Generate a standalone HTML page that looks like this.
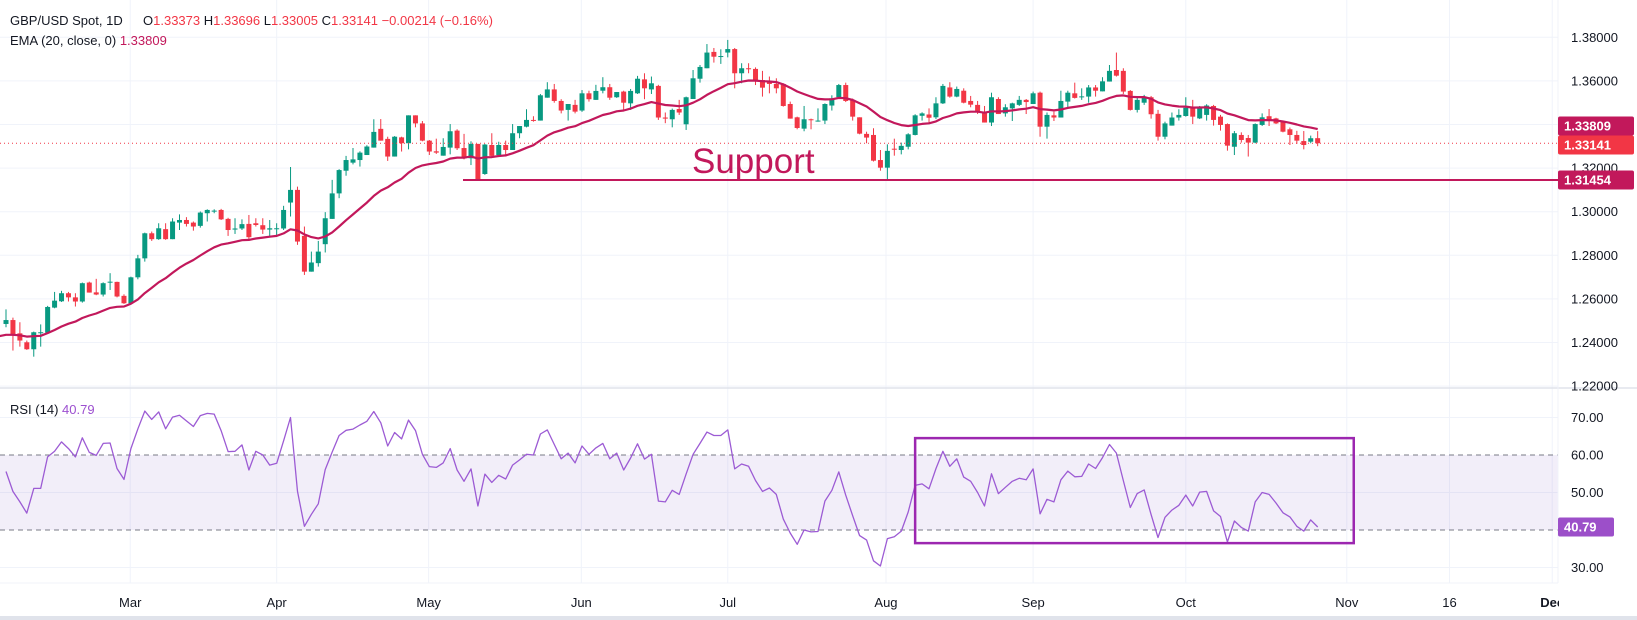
<!DOCTYPE html>
<html><head><meta charset="utf-8"><title>GBP/USD Spot 1D</title>
<style>
html,body{margin:0;padding:0;background:#fff;}
svg{display:block;font-family:"Liberation Sans",sans-serif;}
</style></head>
<body>
<svg id="chart" xmlns="http://www.w3.org/2000/svg" width="1637" height="620" viewBox="0 0 1637 620">
  <rect x="0" y="0" width="1637" height="620" fill="#ffffff"/>
  <g id="grid"></g>
  <rect x="0" y="455" width="1558" height="75" fill="#7e57c2" fill-opacity="0.1" id="rsiBand"/>
  <g id="rsiGuides"></g>
  <g id="candles"></g>
  <g id="ema"></g>
  <g id="rsi"></g>
  <line x1="0" y1="388" x2="1637" y2="388" stroke="#e0e3eb" stroke-width="1.5"/>
  <line x1="0" y1="583" x2="1558" y2="583" stroke="#f0f3fa" stroke-width="1"/>
  <line x1="1558" y1="0" x2="1558" y2="583" stroke="#f0f3fa" stroke-width="1"/>
  <g id="overlays"></g>
  <g id="axes"></g>
  <rect x="0" y="616" width="1637" height="4" fill="#e0e3eb"/>
  <g font-size="13">
    <text x="10" y="25" fill="#131722">GBP/USD Spot, 1D</text>
    <text x="143" y="25" fill="#131722">O<tspan fill="#f23645">1.33373</tspan>  H<tspan fill="#f23645">1.33696</tspan>  L<tspan fill="#f23645">1.33005</tspan>  C<tspan fill="#f23645">1.33141</tspan>  <tspan fill="#f23645">−0.00214 (−0.16%)</tspan></text>
    <text x="10" y="45" fill="#131722">EMA (20, close, 0)  <tspan fill="#c2185b">1.33809</tspan></text>
    <text x="10" y="414" fill="#131722">RSI (14)  <tspan fill="#9c4fd0">40.79</tspan></text>
  </g>
</svg>
<script>
const opens=[1.2485,1.2503,1.2442,1.2401,1.2369,1.2444,1.2445,1.2560,1.2589,1.2626,
1.2607,1.2588,1.2675,1.2630,1.2620,1.2676,1.2678,1.2614,1.2580,1.2699,
1.2786,1.2901,1.2874,1.2920,1.2874,1.2950,1.2962,1.2950,1.2935,1.2993,
1.3004,1.3008,1.2967,1.2918,1.2923,1.2944,1.2947,1.2938,1.2918,1.2921,
1.2923,1.3042,1.3100,1.2889,1.2725,1.2764,1.2851,1.2967,1.3084,1.3188,
1.3225,1.3237,1.3260,1.3294,1.3380,1.3334,1.3253,1.3341,1.3314,1.3442,
1.3405,1.3326,1.3277,1.3257,1.3294,1.3372,1.3292,1.3245,1.3311,1.3173,
1.3306,1.3260,1.3306,1.3283,1.3360,1.3390,1.3421,1.3418,1.3523,1.3561,
1.3508,1.3467,1.3490,1.3464,1.3543,1.3513,1.3555,1.3571,1.3525,1.3551,
1.3497,1.3543,1.3607,1.3561,1.3577,1.3432,1.3424,1.3471,1.3401,1.3517,
1.3610,1.3658,1.3733,1.3711,1.3730,1.3746,1.3635,1.3658,1.3655,1.3604,
1.3597,1.3586,1.3586,1.3494,1.3433,1.3381,1.3424,1.3415,1.3418,1.3487,
1.3525,1.3581,1.3513,1.3433,1.3357,1.3352,1.3237,1.3202,1.3289,1.3283,
1.3298,1.3352,1.3440,1.3446,1.3433,1.3497,1.3570,1.3528,1.3555,1.3508,
1.3490,1.3459,1.3409,1.3517,1.3451,1.3474,1.3490,1.3513,1.3494,1.3546,
1.3390,1.3442,1.3432,1.3505,1.3543,1.3526,1.3528,1.3570,1.3552,1.3597,
1.3650,1.3646,1.3554,1.3467,1.3500,1.3525,1.3449,1.3344,1.3395,1.3432,
1.3439,1.3478,1.3428,1.3444,1.3485,1.3436,1.3402,1.3298,1.3352,1.3338,
1.3317,1.3398,1.3438,1.3428,1.3413,1.3378,1.3352,1.3324,1.3321,1.33373];
const highs=[1.2552,1.2514,1.2493,1.2409,1.2450,1.2483,1.2568,1.2632,1.2637,1.2632,
1.2626,1.2675,1.2679,1.2692,1.2676,1.2718,1.2679,1.2621,1.2702,1.2802,
1.2904,1.2909,1.2947,1.2947,1.2970,1.2988,1.2975,1.2955,1.3001,1.3011,
1.3011,1.3013,1.2972,1.2970,1.2965,1.2985,1.2970,1.2970,1.2962,1.2947,
1.3027,1.3205,1.3115,1.2932,1.2817,1.2866,1.2998,1.3146,1.3195,1.3256,
1.3292,1.3277,1.3305,1.3424,1.3425,1.3344,1.3347,1.3344,1.3442,1.3442,
1.3416,1.3329,1.3335,1.3337,1.3402,1.3378,1.3357,1.3323,1.3311,1.3311,
1.3360,1.3321,1.3326,1.3402,1.3393,1.3470,1.3438,1.3540,1.3594,1.3586,
1.3516,1.3494,1.3513,1.3558,1.3555,1.3582,1.3617,1.3586,1.3549,1.3555,
1.3563,1.3623,1.3635,1.3620,1.3582,1.3455,1.3473,1.3513,1.3528,1.3650,
1.3673,1.3769,1.3751,1.3745,1.3788,1.3751,1.3681,1.3681,1.3662,1.3646,
1.3620,1.3612,1.3589,1.3505,1.3436,1.3485,1.3427,1.3474,1.3497,1.3534,
1.3586,1.3592,1.3519,1.3433,1.3367,1.3383,1.3283,1.3309,1.3335,1.3317,
1.3360,1.3447,1.3456,1.3474,1.3525,1.3586,1.3594,1.3574,1.3566,1.3531,
1.3508,1.3485,1.3546,1.3525,1.3493,1.3500,1.3531,1.3517,1.3551,1.3551,
1.3455,1.3459,1.3555,1.3555,1.3592,1.3566,1.3581,1.3581,1.3617,1.3673,
1.3730,1.3658,1.3558,1.3523,1.3536,1.3531,1.3467,1.3413,1.3455,1.3470,
1.3525,1.3513,1.3485,1.3493,1.3490,1.3444,1.3405,1.3370,1.3364,1.3352,
1.3405,1.3451,1.3471,1.3431,1.3416,1.3386,1.3371,1.3370,1.3349,1.33696];
const lows=[1.2470,1.2363,1.2381,1.2366,1.2335,1.2381,1.2439,1.2557,1.2586,1.2588,
1.2565,1.2583,1.2629,1.2617,1.2611,1.2641,1.2607,1.2577,1.2577,1.2690,
1.2771,1.2866,1.2871,1.2871,1.2874,1.2916,1.2932,1.2913,1.2927,1.2955,
1.2993,1.2962,1.2889,1.2898,1.2916,1.2871,1.2932,1.2898,1.2883,1.2886,
1.2916,1.2978,1.2848,1.2710,1.2725,1.2748,1.2813,1.2967,1.3062,1.3165,
1.3217,1.3207,1.3260,1.3294,1.3326,1.3233,1.3253,1.3276,1.3286,1.3387,
1.3323,1.3260,1.3265,1.3257,1.3263,1.3283,1.3240,1.3214,1.3143,1.3169,
1.3253,1.3256,1.3253,1.3283,1.3337,1.3387,1.3413,1.3418,1.3523,1.3500,
1.3451,1.3418,1.3451,1.3458,1.3505,1.3513,1.3543,1.3513,1.3522,1.3464,
1.3467,1.3540,1.3516,1.3540,1.3421,1.3406,1.3387,1.3444,1.3375,1.3517,
1.3592,1.3658,1.3684,1.3678,1.3708,1.3566,1.3589,1.3635,1.3581,1.3528,
1.3543,1.3543,1.3482,1.3427,1.3378,1.3369,1.3378,1.3413,1.3402,1.3464,
1.3525,1.3503,1.3418,1.3355,1.3314,1.3230,1.3188,1.3143,1.3257,1.3263,
1.3286,1.3350,1.3418,1.3401,1.3425,1.3494,1.3523,1.3525,1.3497,1.3479,
1.3448,1.3409,1.3393,1.3448,1.3436,1.3416,1.3485,1.3448,1.3494,1.3344,
1.3335,1.3416,1.3432,1.3479,1.3519,1.3513,1.3500,1.3528,1.3552,1.3597,
1.3620,1.3540,1.3464,1.3455,1.3490,1.3427,1.3326,1.3332,1.3395,1.3418,
1.3436,1.3402,1.3425,1.3418,1.3395,1.3372,1.3280,1.3260,1.3317,1.3253,
1.3314,1.3393,1.3393,1.3402,1.3364,1.3306,1.3311,1.3286,1.3314,1.33005];
const closes=[1.2503,1.2439,1.2409,1.2369,1.2447,1.2447,1.2563,1.2592,1.2626,1.2607,
1.2588,1.2672,1.2629,1.2620,1.2672,1.2679,1.2611,1.2580,1.2699,1.2786,
1.2901,1.2874,1.2924,1.2874,1.2955,1.2962,1.2944,1.2932,1.2996,1.3008,
1.3005,1.2965,1.2916,1.2923,1.2943,1.2883,1.2939,1.2918,1.2924,1.2924,
1.3008,1.3100,1.2863,1.2725,1.2767,1.2817,1.2970,1.3084,1.3191,1.3237,
1.3240,1.3271,1.3299,1.3366,1.3326,1.3253,1.3344,1.3314,1.3442,1.3405,
1.3326,1.3276,1.3271,1.3297,1.3369,1.3291,1.3245,1.3311,1.3146,1.3308,
1.3256,1.3306,1.3283,1.3360,1.3393,1.3421,1.3418,1.3534,1.3561,1.3508,
1.3464,1.3494,1.3459,1.3543,1.3516,1.3554,1.3571,1.3523,1.3549,1.3500,
1.3554,1.3610,1.3566,1.3589,1.3432,1.3427,1.3467,1.3455,1.3525,1.3612,
1.3664,1.3730,1.3711,1.3714,1.3746,1.3635,1.3658,1.3655,1.3600,1.3569,
1.3586,1.3566,1.3485,1.3427,1.3384,1.3424,1.3421,1.3418,1.3494,1.3520,
1.3581,1.3508,1.3436,1.3358,1.3340,1.3234,1.3202,1.3279,1.3286,1.3302,
1.3355,1.3442,1.3451,1.3431,1.3497,1.3577,1.3528,1.3563,1.3500,1.3491,
1.3456,1.3409,1.3525,1.3448,1.3479,1.3497,1.3513,1.3503,1.3543,1.3390,
1.3444,1.3432,1.3508,1.3546,1.3522,1.3529,1.3570,1.3555,1.3598,1.3646,
1.3624,1.3551,1.3467,1.3513,1.3525,1.3447,1.3344,1.3405,1.3432,1.3444,
1.3477,1.3436,1.3482,1.3487,1.3421,1.3398,1.3303,1.3360,1.3329,1.3317,
1.3402,1.3433,1.3421,1.3405,1.3367,1.3352,1.3326,1.3306,1.3337,1.33141];
const rsiValues=[55.6,50.3,47.5,44.5,51.1,51.1,59.5,61.0,63.5,61.7,
59.5,64.6,60.7,59.9,63.1,63.2,56.4,53.5,61.7,67.0,
71.7,69.5,71.5,67.0,70.1,70.6,69.1,67.6,70.5,71.1,
70.9,66.5,60.9,61.0,62.7,56.0,61.0,60.0,57.3,57.8,
63.8,70.0,50.3,41.0,44.2,47.0,56.1,60.8,65.2,66.6,
66.9,68.0,69.0,71.6,68.6,62.4,66.0,64.3,69.3,66.5,
60.2,56.9,56.7,57.9,61.7,56.0,53.0,56.3,46.4,54.9,
52.7,54.6,53.6,57.3,58.7,60.2,60.0,65.6,66.7,62.8,
59.0,60.5,57.9,62.4,60.2,61.9,63.1,59.0,60.5,56.0,
59.2,63.0,58.9,60.2,47.7,
47.5,50.6,49.5,54.9,60.2,63.1,66.1,65.2,65.2,66.7,
56.3,57.6,57.0,53.2,50.3,51.2,49.5,42.9,39.2,36.2,
40.0,39.5,39.6,47.7,50.6,55.5,49.3,43.8,38.5,37.3,
31.8,30.4,37.7,38.2,39.7,44.8,51.9,52.3,51.0,56.4,
61.0,57.0,59.0,54.1,53.0,50.0,46.4,55.0,49.7,51.4,
53.0,53.8,53.4,56.3,44.3,48.2,47.5,53.4,55.7,54.2,
54.3,57.6,56.4,59.3,62.8,60.5,53.2,46.0,49.7,50.7,
44.1,38.0,43.4,45.3,46.6,49.3,46.4,50.1,50.3,45.1,
43.6,36.8,42.4,40.7,39.7,47.5,50.0,49.5,47.2,44.6,
43.5,41.0,39.7,42.7,40.79];
const emaSeed=1.2428;
const emaPeriod=20;
const priceTicks=[1.38,1.36,1.34,1.32,1.30,1.28,1.26,1.24,1.22];
const priceTickLabels=["1.38000","1.36000","1.34000","1.32000","1.30000","1.28000","1.26000","1.24000","1.22000"];
const rsiTicks=[70,60,50,30];
const rsiTickLabels=["70.00","60.00","50.00","30.00"];
const monthLabels=["Mar","Apr","May","Jun","Jul","Aug","Sep","Oct","Nov","16","Dec"];
const monthBarIdx=[17.9,39.0,60.9,82.9,104.0,126.8,148.0,170.0,193.2,208.0,222.8];
const supportLevel=1.31454;
const lastPrice=1.33141;
const rsiBoxRange=[131.0,194.2];
const rsiBoxLevels=[64.5,36.5];

const NS="http://www.w3.org/2000/svg";
function yP(p){return 37.3+(1.38-p)*2180;}
function yR(v){return 492.5-(v-50)*3.75;}
function xB(i){return 6+i*6.94;}
function mk(tag,attrs,parent){const e=document.createElementNS(NS,tag);for(const k in attrs)e.setAttribute(k,attrs[k]);parent.appendChild(e);return e;}

const grid=document.getElementById('grid');
priceTicks.forEach(function(p){
  const l=mk('line',{x1:0,x2:1558,y1:yP(p),y2:yP(p),stroke:'#f0f3fa','stroke-width':1},grid);
  
  
});
[70,50,30].forEach(function(v){
  const l=mk('line',{x1:0,x2:1558,y1:yR(v),y2:yR(v),stroke:'#f0f3fa','stroke-width':1},grid);
  
  
});
monthBarIdx.forEach(function(b){
  const x=xB(b);
  const l=mk('line',{x1:x,x2:x,y1:0,y2:583,stroke:'#f0f3fa','stroke-width':1},grid);
  
  
});

const band=document.getElementById('rsiBand');
band.setAttribute('y',yR(60));band.setAttribute('height',yR(40)-yR(60));
const rg=document.getElementById('rsiGuides');
[60,40].forEach(function(v){
  const l=mk('line',{x1:0,x2:1558,y1:yR(v),y2:yR(v),stroke:'#787b86','stroke-width':1,'stroke-dasharray':'5,4'},rg);
  
  
});

const cg=document.getElementById('candles');
for(let i=0;i<closes.length;i++){
  const up=closes[i]>=opens[i];
  const col=up?'#089981':'#f23645';
  const x=xB(i);
  const g=mk('g',{},cg);
  
  
  mk('line',{x1:x,x2:x,y1:yP(highs[i]),y2:yP(lows[i]),stroke:col,'stroke-width':1},g);
  const top=yP(Math.max(opens[i],closes[i]));
  const h=Math.max(1,yP(Math.min(opens[i],closes[i]))-top);
  mk('rect',{x:x-2.5,y:top,width:5,height:h,fill:col},g);
}

const eg=document.getElementById('ema');
let ema=emaSeed;const k=2/(emaPeriod+1);let pts=[];
for(let i=0;i<closes.length;i++){
  ema=closes[i]*k+ema*(1-k);
  pts.push(xB(i).toFixed(1)+','+yP(ema).toFixed(1));
}
const emaPath=mk('polyline',{points:'-2,'+yP(emaSeed).toFixed(1)+' '+pts.join(' '),fill:'none',stroke:'#c2185b','stroke-width':2.2,'stroke-linejoin':'round'},eg);



const rgp=document.getElementById('rsi');
const rp=rsiValues.map(function(v,i){return xB(i).toFixed(1)+','+yR(v).toFixed(1);});
const rl=mk('polyline',{points:rp.join(' '),fill:'none',stroke:'#9c5bd4','stroke-width':1.3,'stroke-linejoin':'round'},rgp);



const ov=document.getElementById('overlays');
const pl=mk('line',{x1:0,x2:1558,y1:yP(lastPrice),y2:yP(lastPrice),stroke:'#f23645','stroke-width':1,'stroke-dasharray':'1,3'},ov);


const sl=mk('line',{x1:463,x2:1558,y1:yP(supportLevel),y2:yP(supportLevel),stroke:'#c2185b','stroke-width':2},ov);


const st=mk('text',{x:692,y:yP(supportLevel)-7,fill:'#c2185b','font-size':'35'},ov);
st.textContent='Support';


const bx=mk('rect',{x:xB(rsiBoxRange[0]),y:yR(rsiBoxLevels[0]),width:xB(rsiBoxRange[1])-xB(rsiBoxRange[0]),height:yR(rsiBoxLevels[1])-yR(rsiBoxLevels[0]),fill:'none',stroke:'#9c27b0','stroke-width':2.5},ov);



const ax=document.getElementById('axes');
priceTicks.forEach(function(p,i){
  const t=mk('text',{x:1571,y:yP(p)+4.5,fill:'#131722','font-size':'13'},ax);
  t.textContent=priceTickLabels[i];
  
  
});
rsiTicks.forEach(function(v,i){
  const t=mk('text',{x:1571,y:yR(v)+4.5,fill:'#131722','font-size':'13'},ax);
  t.textContent=rsiTickLabels[i];
  
  
});
monthLabels.forEach(function(m,i){
  const t=mk('text',{x:xB(monthBarIdx[i]),y:607,fill:'#131722','font-size':'13','text-anchor':'middle'},ax);
  if(m==='Dec'){t.setAttribute('font-weight','bold');}
  t.textContent=m;
  
  
});
const axisCover=mk('rect',{x:1559,y:584,width:78,height:32,fill:'#ffffff'},ax);



function tag(yc,w,txt,fill,name){
  const g=mk('g',{},ax);
  
  
  mk('rect',{x:1558,y:yc-9.5,width:w,height:19,rx:2,fill:fill},g);
  const t=mk('text',{x:1564,y:yc+4.5,fill:'#ffffff','font-size':'13','font-weight':'bold'},g);
  t.textContent=txt;
}
tag(126,76,'1.33809','#c2185b','ema-price-tag');
tag(145,76,'1.33141','#f23645','last-price-tag');
tag(yP(supportLevel),76,'1.31454','#c2185b','support-price-tag');
tag(yR(40.79),56,'40.79','#9c4fc9','rsi-value-tag');
</script>
</body></html>
